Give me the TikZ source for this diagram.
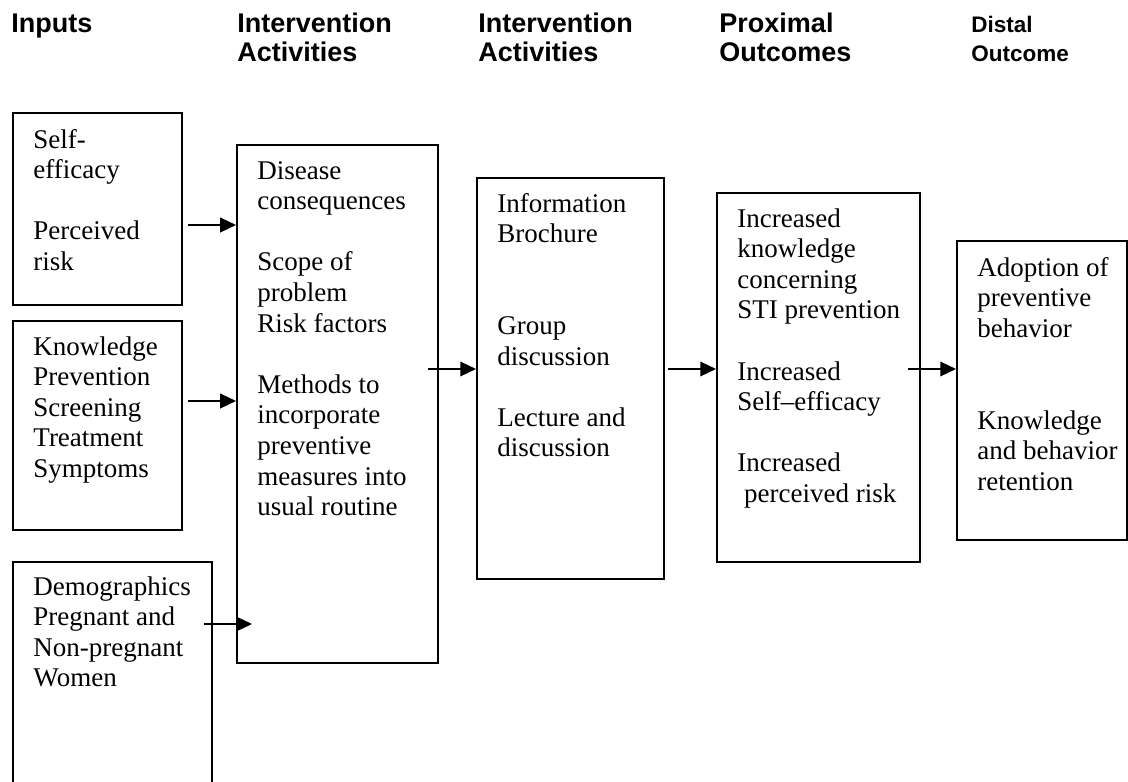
\documentclass[tikz,border=0pt]{standalone}
\usepackage{fontspec}
\setmainfont{Liberation Serif}
\newfontfamily\headfont{Liberation Sans}
\usepackage{tikz}
\usetikzlibrary{arrows.meta}
\usetikzlibrary{positioning}
\tikzstyle{arrow} = [line width=0.75pt,-{Triangle[length=7pt,width=6.5pt]}]
\tikzstyle{stage} = [
    rectangle, draw=black, line width=0.8pt, anchor=north west, inner sep=0pt]
\tikzstyle{entry} = [
    anchor=base west, inner sep=0pt, align=left, text width=150pt,
    execute at begin node={\spaceskip=0pt\xspaceskip=0pt},
    font=\fontsize{12}{13.6}\selectfont]
\tikzstyle{heading} = [
    anchor=base west, inner sep=0pt, align=left, text width=120pt,
    execute at begin node={\spaceskip=0pt\xspaceskip=0pt},
    font=\headfont\bfseries\fontsize{12}{13.3}\selectfont]

\begin{document}
\begin{tikzpicture}[x=0.4444pt, y=-0.4444pt]
\clip (0,0) rectangle (1128,782);

% column headings
\node (hinputs) [heading] at (11,32) {Inputs};
\node (hact) [heading] at (237,32) {Intervention\\Activities};
\node (hprog) [heading] at (478,32) {Intervention\\Activities};
\node (hprox) [heading] at (719,32) {Proximal\\Outcomes};
\node (hdist) [heading, font=\headfont\bfseries\fontsize{10}{13.3}\selectfont] at (971,32) {Distal\\Outcome};

% boxes
\node (selfeff) [stage, minimum width=75.1pt, minimum height=85.3pt] at (12,112) {};
\node (knowledge) [stage, minimum width=75.1pt, minimum height=92.9pt] at (12,320) {};
\node (demog) [stage, minimum width=88.4pt, minimum height=120pt] at (12,561) {};
\node (disease) [stage, minimum width=89.3pt, minimum height=230.2pt] at (236,144) {};
\node (program) [stage, minimum width=83.1pt, minimum height=178.2pt] at (476,177) {};
\node (proximal) [stage, minimum width=90.2pt, minimum height=164pt] at (716,192) {};
\node (distal) [stage, minimum width=75.5pt, minimum height=132.9pt] at (956,240) {};

% box texts
\node (selfefftext) [entry] at ([shift={(21,36)}]selfeff.north west) {
    Self-\\efficacy\\[13.6pt]Perceived\\risk};
\node (knowledgetext) [entry] at ([shift={(21,35)}]knowledge.north west) {
    Knowledge\\Prevention\\Screening\\Treatment\\Symptoms};
\node (demogtext) [entry] at ([shift={(21,34)}]demog.north west) {
    Demographics\\Pregnant and\\Non-pregnant\\Women};
\node (diseasetext) [entry] at ([shift={(21,35)}]disease.north west) {
    Disease\\consequences\\[13.6pt]Scope of\\problem\\Risk factors\\[13.6pt]Methods to\\incorporate\\preventive\\measures into\\usual routine};
\node (programtext) [entry] at ([shift={(21,35)}]program.north west) {
    Information\\Brochure\\[27.2pt]Group\\discussion\\[13.6pt]Lecture and\\discussion};
\node (proximaltext) [entry] at ([shift={(21,35)}]proximal.north west) {
    Increased\\knowledge\\concerning\\STI prevention\\[13.6pt]Increased\\Self--efficacy\\[13.6pt]Increased\\~perceived risk};
\node (distaltext) [entry] at ([shift={(21,36)}]distal.north west) {
    Adoption of\\preventive\\behavior\\[27.2pt]Knowledge\\and behavior\\retention};

% arrows
\coordinate (p1) at (188,225);
\coordinate (p2) at (188,401);
\coordinate (p3) at (204,624);
\coordinate (p4) at (428,369);
\coordinate (p5) at (668,369);
\coordinate (p6) at (908,369);
\draw [arrow] (p1) -- (p1 -| disease.west);
\draw [arrow] (p2) -- (p2 -| disease.west);
\draw [arrow] (p3) -- ++(48,0);
\draw [arrow] (p4) -- (p4 -| program.west);
\draw [arrow] (p5) -- (p5 -| proximal.west);
\draw [arrow] (p6) -- (p6 -| distal.west);
\end{tikzpicture}
\end{document}
